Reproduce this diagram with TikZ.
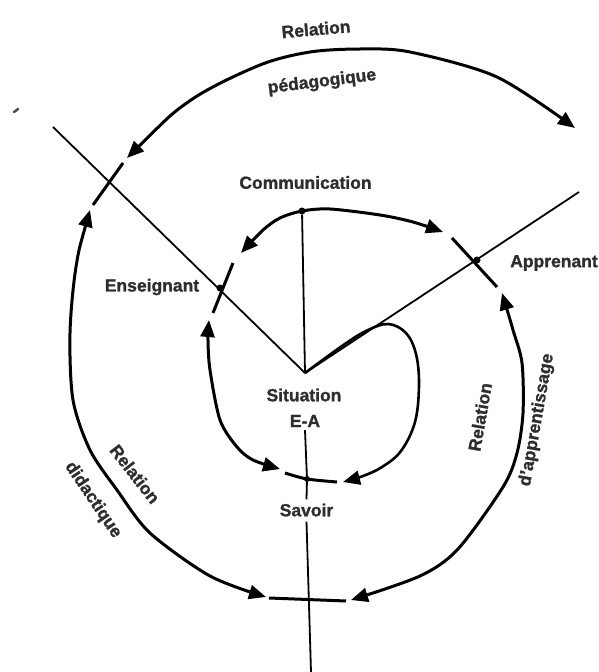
\documentclass[tikz,border=0pt]{standalone}
\usepackage{fontspec}
\setmainfont{Liberation Sans}[BoldFeatures={FakeBold=1.3}]
\usetikzlibrary{arrows.meta}
\begin{document}
\begin{tikzpicture}[x=1pt,y=1pt,
  >={Triangle[length=17pt,width=14pt]},
  thinline/.style={line width=1.8pt},
  arcline/.style={line width=3pt},
  dot/.style={circle, fill, inner sep=0pt, minimum size=7pt},
  lbl/.style={font=\fontsize{17.5}{21}\selectfont\bfseries, text=black!82, inner sep=0pt}
]
\useasboundingbox (0,0) rectangle (599,-672);

% key points
\coordinate (S) at (305,-373);
\node[dot] (C) at (302,-211) {};
\node[dot] (E) at (220,-288) {};
\node[dot] (A) at (477,-260) {};
\node[dot,minimum size=6pt] (V) at (307,-479) {};
\coordinate (DL) at (53,-127);
\coordinate (DR) at (579,-192);
\coordinate (bot) at (311,-672);

% labels
\node[lbl, rotate=5] (tRel) at (316,-29) {Relation};
\node[lbl, rotate=7] (tPed) at (322,-82) {pédagogique};
\node[lbl] (tCom) at (305.5,-182.5) {Communication};
\node[lbl] (tEns) at (152,-287) {Enseignant};
\node[lbl] (tApp) at (554,-263) {Apprenant};
\node[lbl] (sit1) at (304,-395) {Situation};
\node[lbl] (sit2) at (305,-421) {E-A};
\node[lbl] (sav) at (306.5,-510) {Savoir};
\node[lbl, rotate=-52] (tRelL) at (135,-474) {Relation};
\node[lbl, rotate=-56] (tDid) at (93,-500) {didactique};
\node[lbl, rotate=80] (tRelR) at (480,-417) {Relation};
\node[lbl, rotate=80] (tApr) at (537,-420) {d'apprentissage};

% straight thin lines
\draw[thinline] (DL) -- (S);
\draw[thinline] (DR) -- (S);
\draw[thinline] (C) -- (S);
\draw[thinline] ([yshift=-3pt]sit2.south) -- (V) -- ([yshift=4pt]sav.north);
\draw[thinline] ([yshift=-5pt]sav.south) -- (bot);

% arc end points
\coordinate (pedL) at (127,-158);
\coordinate (pedR) at (575,-128);
\coordinate (didT) at (90,-210);
\coordinate (didB) at (266,-597);
\coordinate (aprT) at (502,-293);
\coordinate (aprB) at (351,-600);
\coordinate (comL) at (241,-253);
\coordinate (comR) at (443,-232);
\coordinate (enT) at (209,-320);
\coordinate (enB) at (280,-469);
\coordinate (loopE) at (343,-482);

% outer spiral
\draw[arcline,<->] plot[smooth] coordinates {(pedL) (191,-100) (260,-65) (310,-52) (360,-49) (410,-52) (497,-77) (pedR)};
\draw[arcline] (123,-163) -- (93,-205);
\draw[arcline,<->] plot[smooth] coordinates {(didT) (76,-267) (70,-333) (73,-400) (90,-450) (117,-490) (150,-533) (210,-576) (didB)};
\draw[arcline] (269,-598) -- (346,-601);
\draw[arcline,<->] plot[smooth] coordinates {(aprT) (513,-330) (522,-363) (523,-413) (517,-453) (503,-487) (458,-549) (420,-576) (aprB)};
\draw[arcline] (452,-238) -- (497,-287);

% inner spiral
\draw[arcline,<->] plot[smooth] coordinates {(comL) (263,-230) (280,-218) (C) (330,-209) (380,-215) (413,-222) (comR)};
\draw[arcline] (233,-263) -- (213,-313);
\draw[arcline,<->] plot[smooth] coordinates {(enT) (208,-340) (210,-370) (220,-420) (237,-447) (253,-460) (enB)};
\draw[arcline] plot[smooth] coordinates {(285,-473) (V) (337,-482)};
\draw[line width=2.6pt,->] plot[smooth, tension=0.6] coordinates {(S) (342,-346) (366,-331) (388,-324) (406,-333) (416,-354) (419,-385) (415,-422) (401,-451) (382,-467) (363,-476) (loopE)};

% small stray mark
\draw[line width=2.5pt, black!70, line cap=round] (14,-112) -- (18,-109);
\end{tikzpicture}
\end{document}
